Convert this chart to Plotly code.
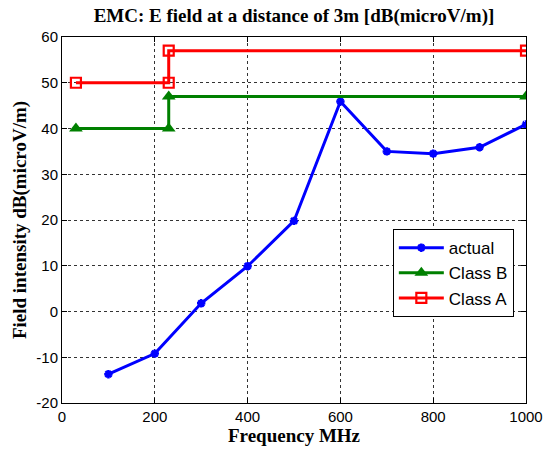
import plotly.graph_objects as go

# Measured emission levels
freq_actual = [100, 200, 300, 400, 500, 600, 700, 800, 900, 1000]
level_actual = [-13.7, -9.2, 1.8, 9.9, 19.8, 45.9, 35.0, 34.5, 35.9, 40.9]

# Class B limit (step at 230 MHz)
freq_class_b = [30, 230, 230, 1000]
level_class_b = [40, 40, 47, 47]

# Class A limit (step at 230 MHz)
freq_class_a = [30, 230, 230, 1000]
level_class_a = [50, 50, 57, 57]

x_ticks = [0, 200, 400, 600, 800, 1000]
y_ticks = [-20, -10, 0, 10, 20, 30, 40, 50, 60]

SERIF = "Liberation Serif, Times New Roman, serif"
SANS = "Liberation Sans, Arial, sans-serif"

fig = go.Figure()

fig.add_trace(go.Scatter(
    x=freq_actual, y=level_actual, name="actual", mode="lines+markers",
    line=dict(color="#0000FF", width=3),
    marker=dict(symbol="asterisk-open", size=7, color="#0000FF",
                line=dict(color="#0000FF", width=2.5)),
))
fig.add_trace(go.Scatter(
    x=freq_class_b, y=level_class_b, name="Class B", mode="lines+markers",
    line=dict(color="#008000", width=3),
    marker=dict(symbol="triangle-up", size=12, color="#008000"),
))
fig.add_trace(go.Scatter(
    x=freq_class_a, y=level_class_a, name="Class A", mode="lines+markers",
    line=dict(color="#FF0000", width=3),
    marker=dict(symbol="square-open", size=10, color="#FF0000",
                line=dict(color="#FF0000", width=2.2)),
))

axis_common = dict(
    showline=True, linecolor="black", linewidth=1, mirror="ticks",
    ticks="inside", ticklen=5, tickcolor="black",
    showgrid=True, gridcolor="#333333", gridwidth=1, griddash="3px,3px",
    zeroline=False, automargin=False,
    tickfont=dict(family=SANS, size=15, color="black"),
)

fig.update_layout(
    width=544, height=450,
    margin=dict(l=62, r=18, t=37, b=47),
    paper_bgcolor="white", plot_bgcolor="white",
    title=dict(
        text="<b>EMC: E field at a distance of 3m [dB(microV/m)]</b>",
        x=(62 + 526) / 2 / 544, xanchor="center", y=1 - 15 / 450, yanchor="middle",
        font=dict(family=SERIF, size=19, color="black"),
    ),
    xaxis=dict(
        range=[0, 1000], tickvals=x_ticks, ticktext=[str(v) for v in x_ticks],
        title=dict(text="<b>Frequency MHz</b>", standoff=4,
                   font=dict(family=SERIF, size=19, color="black")),
        **axis_common,
    ),
    yaxis=dict(
        range=[-20, 60], tickvals=y_ticks, ticktext=[str(v) for v in y_ticks],
        title=dict(text="<b>Field intensity dB(microV/m)</b>", standoff=4,
                   font=dict(family=SERIF, size=19, color="black")),
        **axis_common,
    ),
    legend=dict(
        x=0.713, y=0.475, xanchor="left", yanchor="top",
        bgcolor="white", bordercolor="black", borderwidth=1,
        font=dict(family=SANS, size=17, color="black"),
        tracegroupgap=0, itemwidth=45,
    ),
)

fig.write_html("out.html")
